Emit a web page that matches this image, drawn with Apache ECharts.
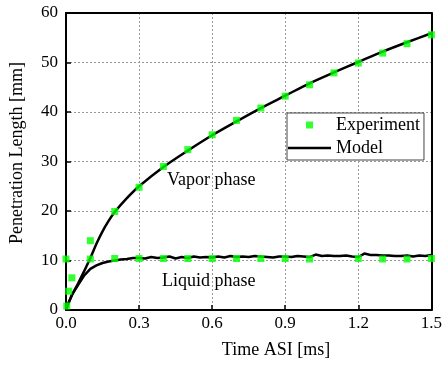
<!DOCTYPE html>
<html>
<head>
<meta charset="utf-8">
<script src="https://cdn.jsdelivr.net/npm/echarts@6/dist/echarts.min.js"></script>
<style>
  html, body { margin: 0; padding: 0; background: #fff; }
  #chart { width: 445px; height: 367px; }
</style>
</head>
<body>
<div id="chart"></div>
<script>
// 数据
var xTicks = [0, 0.3, 0.6, 0.9, 1.2, 1.5];
var yTicks = [0, 10, 20, 30, 40, 50, 60];

// 实验点 - 气相
var vaporExpTime = [0.003, 0.011, 0.024, 0.1, 0.2, 0.3, 0.4, 0.5, 0.6, 0.7, 0.8, 0.9, 1.0, 1.1, 1.2, 1.3, 1.4, 1.5];
var vaporExpLen = [0.8, 3.8, 6.5, 14.0, 19.9, 24.8, 29.0, 32.4, 35.4, 38.3, 40.8, 43.2, 45.5, 47.9, 49.9, 51.9, 53.8, 55.6];

// 实验点 - 液相
var liquidExpTime = [0, 0.1, 0.2, 0.3, 0.4, 0.5, 0.6, 0.7, 0.8, 0.9, 1.0, 1.2, 1.3, 1.4, 1.5];
var liquidExpLen = [10.3, 10.3, 10.4, 10.4, 10.4, 10.4, 10.4, 10.4, 10.4, 10.4, 10.3, 10.4, 10.3, 10.3, 10.4];

// 模型曲线 - 气相
var vaporModelTime = [0, 0.01, 0.025, 0.05, 0.075, 0.1, 0.125, 0.15, 0.175, 0.2, 0.25, 0.3, 0.4, 0.5, 0.6, 0.7, 0.8, 0.9, 1.0, 1.1, 1.2, 1.3, 1.4, 1.5];
var vaporModelLen = [0, 1.3, 3.1, 5.4, 7.9, 10.5, 13.4, 15.9, 18.0, 19.8, 22.6, 25.0, 28.9, 32.2, 35.3, 38.1, 40.8, 43.3, 45.8, 48.0, 50.1, 52.2, 54.1, 55.9];

// 模型曲线 - 液相
var liquidModelTime = [0, 0.01, 0.025, 0.05, 0.075, 0.1, 0.125, 0.15, 0.175,
  0.2, 0.225, 0.25, 0.275, 0.3, 0.325, 0.35, 0.375, 0.4, 0.425, 0.45, 0.475,
  0.5, 0.525, 0.55, 0.575, 0.6, 0.625, 0.65, 0.675, 0.7, 0.725, 0.75, 0.775,
  0.8, 0.825, 0.85, 0.875, 0.9, 0.925, 0.95, 0.975, 1.0, 1.025, 1.05, 1.075,
  1.1, 1.125, 1.15, 1.175, 1.2, 1.225, 1.25, 1.275, 1.3, 1.325, 1.35, 1.375,
  1.4, 1.425, 1.45, 1.475, 1.5];
var liquidModelLen = [0, 1.4, 3.1, 5.1, 7.0, 8.3, 9.0, 9.5, 9.8,
  10.0, 10.2, 10.3, 10.5, 10.5, 10.4, 10.7, 10.5, 10.6, 10.8, 10.4, 10.7,
  10.5, 10.8, 10.6, 10.7, 10.6, 10.8, 10.6, 10.9, 10.7, 10.8, 10.7, 10.9,
  10.8, 10.7, 10.6, 10.8, 10.8, 10.7, 10.9, 10.8, 10.7, 11.2, 10.9, 11.0,
  10.9, 10.9, 11.0, 10.8, 10.7, 11.4, 11.1, 11.1, 11.0, 11.0, 10.9, 10.9,
  11.0, 10.8, 11.0, 10.9, 11.1];

function pairs(xs, ys) {
    return xs.map(function (x, i) { return [x, ys[i]]; });
}

var font = 'Liberation Serif, Times New Roman, serif';
var gridLine = { lineStyle: { color: '#999', type: [2, 2], width: 1 } };
var blackLine = { show: true, onZero: false, lineStyle: { color: '#000', width: 2 } };

var myChart = echarts.init(document.getElementById('chart'));
var option = {
    animation: false,
    backgroundColor: '#fff',
    textStyle: { fontFamily: font, color: '#000' },
    grid: { left: 66, right: 11, top: 13, bottom: 57 },
    legend: {
        orient: 'vertical',
        left: 287, top: 113,
        padding: [3, 4, 3, 1],
        itemGap: 5,
        itemWidth: 43,
        itemHeight: 7,
        backgroundColor: '#fff',
        borderColor: '#444',
        borderWidth: 1,
        borderRadius: 0,
        textStyle: { fontFamily: font, fontSize: 18, color: '#000' },
        data: [
            { name: 'Experiment', icon: 'path://M0,0h10v10h-10z' },
            { name: 'Model', icon: 'path://M0,0h43v2.5h-43z' }
        ]
    },
    xAxis: [
        {
            type: 'value', position: 'bottom',
            min: 0, max: 1.5, interval: 0.3,
            axisLine: blackLine,
            axisTick: { inside: true, length: 5, lineStyle: { color: '#000', width: 1.5 } },
            axisLabel: {
                fontSize: 17, color: '#000', margin: 5, fontFamily: font,
                formatter: function (v) { return v.toFixed(1); }
            },
            splitLine: gridLine
        },
        {
            // 上边框
            type: 'value', position: 'top',
            min: 0, max: 1.5, interval: 0.3,
            axisLine: blackLine,
            axisTick: { show: false }, axisLabel: { show: false }, splitLine: { show: false }
        }
    ],
    yAxis: [
        {
            type: 'value', position: 'left',
            min: 0, max: 60, interval: 10,
            axisLine: blackLine,
            axisTick: { show: true, inside: true, length: 5, lineStyle: { color: '#000', width: 1.5 } },
            axisLabel: { fontSize: 17, color: '#000', margin: 8, fontFamily: font },
            splitLine: gridLine
        },
        {
            // 右边框
            type: 'value', position: 'right',
            min: 0, max: 60, interval: 10,
            axisLine: blackLine,
            axisTick: { show: false }, axisLabel: { show: false }, splitLine: { show: false }
        }
    ],
    series: [
        {
            name: 'Model', type: 'line', showSymbol: false, symbol: 'none',
            smooth: 0.3, color: '#000',
            lineStyle: { color: '#000', width: 2.5 },
            data: pairs(vaporModelTime, vaporModelLen)
        },
        {
            name: 'Model', type: 'line', showSymbol: false, symbol: 'none',
            color: '#000',
            lineStyle: { color: '#000', width: 2.5 },
            data: pairs(liquidModelTime, liquidModelLen)
        },
        {
            name: 'Experiment', type: 'scatter', symbol: 'rect', symbolSize: 7,
            color: '#00ff00', z: 5,
            data: pairs(vaporExpTime, vaporExpLen)
        },
        {
            name: 'Experiment', type: 'scatter', symbol: 'rect', symbolSize: 7,
            color: '#00ff00', z: 5,
            data: pairs(liquidExpTime, liquidExpLen)
        }
    ],
    graphic: [
        {
            type: 'text', left: 167, top: 171,
            style: { text: 'Vapor phase', font: '18px ' + font, fill: '#000' }
        },
        {
            type: 'text', left: 162, top: 272,
            style: { text: 'Liquid phase', font: '18px ' + font, fill: '#000' }
        },
        {
            type: 'text', x: 276, y: 350,
            style: { text: 'Time ASI [ms]', font: '18px ' + font, fill: '#000', align: 'center', verticalAlign: 'middle' }
        },
        {
            type: 'text', x: 17, y: 153, rotation: Math.PI / 2,
            style: { text: 'Penetration Length [mm]', font: '18px ' + font, fill: '#000', align: 'center', verticalAlign: 'middle' }
        }
    ]
};
myChart.setOption(option);
</script>
</body>
</html>
